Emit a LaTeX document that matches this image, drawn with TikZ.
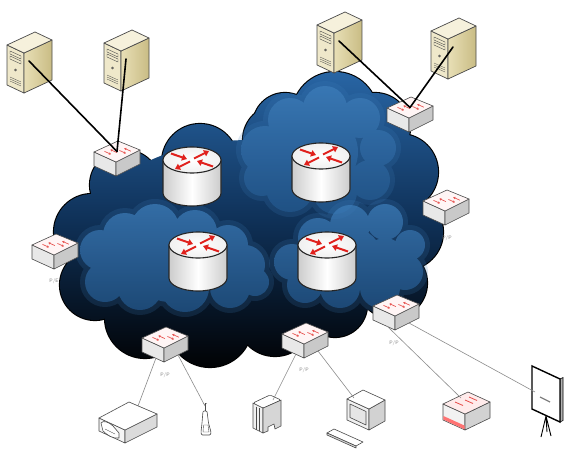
\documentclass[tikz,border=0pt]{standalone}
\usetikzlibrary{arrows.meta}
\definecolor{cloudtop}{HTML}{2865A4}
\definecolor{cloudmid}{HTML}{0F3158}
\definecolor{cloudbot}{HTML}{010204}
\definecolor{lighttop}{HTML}{3F7FBC}
\definecolor{lightbot}{HTML}{22578D}
\definecolor{srvfront}{HTML}{EFE8CA}
\definecolor{srvsidehi}{HTML}{E8DFB6}
\definecolor{srvsidelo}{HTML}{C9BC84}
\definecolor{srvtop}{HTML}{F6F1DC}
\definecolor{edgegray}{HTML}{4A4A4A}
\definecolor{wirecol}{HTML}{8C8C8C}
\definecolor{arrowred}{HTML}{E0201C}
\begin{document}
\begin{tikzpicture}[x=1pt,y=-1pt]
\tikzset{
  devline/.style={draw=edgegray, line width=0.6pt, line join=round},
  uplink/.style={line width=1.6pt, black, line cap=round},
  droplink/.style={line width=0.6pt, draw=wirecol},
  portlabel/.style={text=gray, font=\fontsize{5}{5}\selectfont\sffamily, inner sep=0pt},
  redarrow/.style={draw=arrowred, line width=2pt, -{Triangle[width=6.5pt,length=5pt]}},
  swarrow/.style={draw=arrowred!75, line width=0.7pt, -{Triangle[width=2.4pt,length=2pt]}},
  halo/.style={fill=lighttop, opacity=0.18},
  innerbody/.style={top color=lighttop, bottom color=lightbot, opacity=0.7},
  router/.pic={
    \path[draw=black!85, line width=1.1pt, left color=gray!40, right color=gray!40, middle color=white]
      (-29,0) -- (-29,33) arc[start angle=180, end angle=360, x radius=29pt, y radius=13pt] -- (29,0) -- cycle;
    \path[draw=black!85, line width=1.1pt, inner color=white, outer color=gray!12]
      (0,0) ellipse[x radius=29pt, y radius=13pt];
    \draw[redarrow] (-2,1.5) -- (-17,9);
    \draw[redarrow] (2,-1.5) -- (17,-9);
    \draw[redarrow] (-21,-6.5) -- (-5,-1);
    \draw[redarrow] (21,6.5) -- (5,1);
    \coordinate (-c) at (0,0);
  },
  switch/.pic={
    \path[devline, fill=gray!18] (0,11) -- (22,21) -- (22,35) -- (0,25) -- cycle;
    \path[devline, fill=gray!42] (22,21) -- (46,9) -- (46,23) -- (22,35) -- cycle;
    \path[devline, fill=red!4] (0,11) -- (24,0) -- (46,9) -- (22,21) -- cycle;
    \draw[swarrow] (10.4,10.3) -- (17,13.3);
    \draw[swarrow] (22.9,11.6) -- (16.3,8.6);
    \draw[swarrow] (25.4,9.4) -- (32,12.4);
    \draw[swarrow] (36.8,10.2) -- (30.2,7.2);
    \coordinate (-top) at (23,10.5);
    \coordinate (-bl) at (14,31);
    \coordinate (-br) at (36,28);
  },
  server/.pic={
    \path[devline, line width=0.7pt, fill=srvfront] (0,13) -- (17,21) -- (17,61) -- (0,53) -- cycle;
    \path[devline, line width=0.7pt, left color=srvsidehi, right color=srvsidelo] (17,21) -- (45,8) -- (45,48) -- (17,61) -- cycle;
    \path[devline, line width=0.7pt, fill=srvtop] (0,13) -- (28,0) -- (45,8) -- (17,21) -- cycle;
    \draw[edgegray, line width=0.4pt] (3,19) -- (14,24) -- (14,27) -- (3,22) -- cycle;
    \draw[edgegray, line width=0.4pt] (3,24) -- (14,29) -- (14,32) -- (3,27) -- cycle;
    \draw[edgegray, line width=0.4pt] (8.5,38) circle[radius=1pt];
    \foreach \k in {0,2,4} \draw[edgegray, line width=0.3pt] (3,45+\k) -- (14,50+\k);
    \coordinate (-port) at (22,29);
  },
  printer/.pic={
    \path[devline, fill=gray!8] (2,16) -- (28,28) -- (28,41) -- (2,29) -- cycle;
    \path[devline, fill=gray!28] (28,28) -- (60,12) -- (60,25) -- (28,41) -- cycle;
    \path[devline, fill=white] (2,16) -- (32,0) -- (60,12) -- (28,28) -- cycle;
    \path[devline, fill=white] (4,21) .. controls (6,18) and (12,20) .. (16,24) -- (22,31) -- (22,36) .. controls (16,37) and (10,33) .. (6,29) -- cycle;
    \draw[devline, line width=0.4pt] (8,27) -- (18,32);
    \coordinate (-port) at (41,4);
  },
  phone/.pic={
    \draw[devline] (5,0) -- (5,8);
    \draw[devline, line width=0.3pt] (3,0) -- (5,2) -- (7,0);
    \path[devline, fill=white, rounded corners=1pt] (3,8) -- (7,8) -- (8.5,20) -- (11,29) -- (10.5,32) -- (1.5,32) -- (1,29) -- (2,20) -- cycle;
    \path[devline, line width=0.4pt] (3.5,22) -- (8,22) -- (9,29) -- (3,29) -- cycle;
    \coordinate (-port) at (5,3);
  },
  faxunit/.pic={
    \path[devline, fill=gray!12] (0,8) -- (10,13) -- (10,38) -- (0,33) -- cycle;
    \foreach \k in {3,6} \draw[devline, line width=0.4pt] (\k,10+\k/2) -- (\k,33+\k/2);
    \path[devline, fill=gray!32] (10,13) -- (28,5) -- (28,31) -- (22,34) -- (21,29) -- (15,32) -- (15,36) -- (10,38) -- cycle;
    \path[devline, fill=white, rounded corners=1.5pt] (0,8) -- (17,0) -- (28,5) -- (10,13) -- cycle;
    \coordinate (-port) at (20,5);
  },
  monitor/.pic={
    \path[devline, fill=gray!12] (0,9) -- (22,19) -- (22,40) -- (0,30) -- cycle;
    \path[devline, fill=gray!35] (22,19) -- (38,10) -- (38,31) -- (22,40) -- cycle;
    \path[devline, fill=white] (0,9) -- (16,0) -- (38,10) -- (22,19) -- cycle;
    \path[devline, fill=gray!20] (3,14) -- (19,21.5) -- (19,35) -- (3,27.5) -- cycle;
    \coordinate (-port) at (7,8);
  },
  keyboard/.pic={
    \path[devline, fill=white] (0,8) -- (7,4) -- (36,17) -- (29,21) -- cycle;
    \path[devline, fill=gray!30] (0,8) -- (29,21) -- (29,23) -- (0,10) -- cycle;
  },
  reddevice/.pic={
    \path[devline, fill=gray!10] (0,12) -- (22,22) -- (22,38) -- (0,28) -- cycle;
    \path[devline, fill=gray!35] (22,22) -- (47,10) -- (47,26) -- (22,38) -- cycle;
    \path[fill=red!55] (0.4,24) -- (21.6,33.6) -- (21.6,37.4) -- (0.4,27.6) -- cycle;
    \path[devline, fill=red!8] (0,12) -- (25,0) -- (47,10) -- (22,22) -- cycle;
    \draw[arrowred!80, line width=0.8pt] (12,10) -- (20,13.5) (22,8) -- (30,11.5) (26,5) -- (34,8.5);
    \coordinate (-port) at (18,6);
  },
  screen/.pic={
    \path[draw=black, line width=0.6pt, fill=gray!60] (28,13) -- (31,11.5) -- (31,54.5) -- (28,56) -- cycle;
    \path[draw=black, line width=1.4pt, fill=white] (0,0) -- (28,13) -- (28,56) -- (0,43) -- cycle;
    \draw[gray, line width=1.2pt] (8,31) -- (18,36);
    \draw[black, line width=0.9pt] (14,50) -- (9,71) (14,50) -- (19,70) (14,50) -- (15,66);
    \coordinate (-port) at (3,26);
  }
}
\useasboundingbox (0,0) rectangle (569,449);
\fill[white] (0,0) rectangle (569,449);

% ---- the network cloud ----
\def\outercloud{125/185/35, 92/232/38, 95/285/35, 145/318/40, 210/325/42, 275/318/38, 335/305/32, 392/283/35, 405/232/38, 400/172/38, 375/128/35, 335/115/43, 285/125/32, 278/140/35, 200/162/38}
\foreach \a/\b/\c in \outercloud \draw[line width=2.2pt, black] (\a,\b) circle[radius=\c*1pt];
\path[top color=cloudtop, bottom color=cloudbot, middle color=cloudmid]
  \foreach \a/\b/\c in \outercloud { (\a,\b) circle[radius=\c*1pt] }
  (250,240) ellipse[x radius=165pt, y radius=100pt]
  (345,165) circle[radius=40pt] (150,220) circle[radius=40pt] (260,190) circle[radius=50pt];

% lighter inner clouds: a soft halo, then the body
\def\innerA{100/250/20, 125/235/22, 155/228/24, 195/232/22, 228/245/20, 245/265/20, 105/282/20, 140/288/22, 185/288/24, 230/288/20, 170/262/40, 122/262/22, 255/282/14}
\def\innerB{265/150/24, 290/120/22, 325/108/22, 360/118/20, 378/148/18, 370/180/20, 335/192/22, 290/188/24, 262/178/18, 320/152/38}
\def\innerC{292/262/18, 318/238/20, 350/225/20, 385/222/18, 410/245/15, 405/272/18, 380/288/20, 340/288/20, 305/285/18, 352/258/30, 385/258/20}
\path[halo] \foreach \a/\b/\c in \innerA { (\a,\b) circle[radius=\c*1pt+5pt] };
\path[innerbody] \foreach \a/\b/\c in \innerA { (\a,\b) circle[radius=\c*1pt] };
\path[halo] \foreach \a/\b/\c in \innerB { (\a,\b) circle[radius=\c*1pt+5pt] };
\path[innerbody] \foreach \a/\b/\c in \innerB { (\a,\b) circle[radius=\c*1pt] };
\path[halo] \foreach \a/\b/\c in \innerC { (\a,\b) circle[radius=\c*1pt+5pt] };
\path[innerbody] \foreach \a/\b/\c in \innerC { (\a,\b) circle[radius=\c*1pt] };

% ---- core routers ----
\pic (r1) at (192,160) {router};
\pic (r2) at (321,156) {router};
\pic (r3) at (198,245) {router};
\pic (r4) at (327,245) {router};

% ---- edge switches ----
\pic (swtl) at (94,141) {switch};
\pic (swtr) at (387,97) {switch};
\pic (swr) at (423,190) {switch};
\pic (swl) at (32,234) {switch};
\pic (swbl) at (142,327) {switch};
\pic (swbm) at (282,323) {switch};
\pic (swbr) at (373,295) {switch};

\node[portlabel] (lblr) at (447,238) {P/P};
\node[portlabel] (lbll) at (54,281) {P/E};
\node[portlabel] (lblbl) at (165,375) {P/P};
\node[portlabel] (lblbm) at (304,370) {P/P};
\node[portlabel] (lblbr) at (394,343) {P/P};

% ---- servers ----
\pic (s1) at (7,32) {server};
\pic (s2) at (104,30) {server};
\pic (s3) at (317,12) {server};
\pic (s4) at (431,18) {server};

\draw[uplink] (s1-port) -- (swtl-top);
\draw[uplink] (s2-port) -- (swtl-top);
\draw[uplink] (s3-port) -- (swtr-top);
\draw[uplink] (s4-port) -- (swtr-top);

% ---- access devices ----
\pic (prn) at (97,402) {printer};
\pic (tel) at (200,403) {phone};
\pic (fax) at (253,395) {faxunit};
\pic (pc) at (347,390) {monitor};
\pic (kbd) at (327,425) {keyboard};
\pic (red) at (443,392) {reddevice};
\pic (scr) at (532,366) {screen};

\draw[droplink] (swbl-bl) -- (prn-port);
\draw[droplink] (swbl-br) -- (tel-port);
\draw[droplink] (swbm-bl) -- (fax-port);
\draw[droplink] (swbm-br) -- (pc-port);
\draw[droplink] (swbr-bl) -- (red-port);
\draw[droplink] (swbr-br) -- (scr-port);
\end{tikzpicture}
\end{document}
